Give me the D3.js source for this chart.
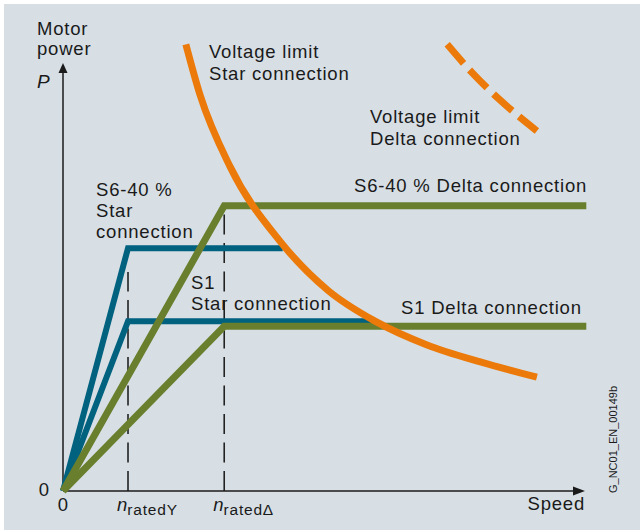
<!DOCTYPE html>
<html>
<head>
<meta charset="utf-8">
<script src="https://cdn.jsdelivr.net/npm/d3@7/dist/d3.min.js"></script>
<style>
  body { margin: 0; background: #fff; }
  svg text { font-family: "Liberation Sans", Arial, sans-serif; fill: #1a1a1a; }
</style>
</head>
<body>
<div id="chart"></div>
<script>
// Speed unit: n_ratedY = 1, power unit: S1 star connection = 1
const speedMax = 8.03;
const powerMax = 2.52;

const tickValues = [0, 1.0, 2.48];
const tickMain = ["0", "n", "n"];
const tickSub = ["", "ratedY", "ratedΔ"];
const ratedTop = [null, 1.29, 1.66];

const starS6 = [[0, 0], [1.0, 1.43], [3.38, 1.43]];
const starS1 = [[0, 0], [1.0, 1.0], [4.75, 1.0]];
const deltaS6 = [[0, 0], [2.48, 1.68], [8.05, 1.68]];
const deltaS1 = [[0, 0], [2.48, 0.97], [8.05, 0.97]];

const limitStar = [[1.89, 2.63], [2.11, 2.33], [2.57, 1.91], [3.34, 1.47], [4.08, 1.18],
                   [4.8, 1.0], [5.6, 0.86], [6.42, 0.76], [7.29, 0.67]];
const limitDelta = [[5.91, 2.63], [6.3, 2.46], [6.7, 2.31], [7.0, 2.21], [7.29, 2.12]];

const colors = { star: "#00627f", delta: "#6a7f2e", limit: "#ec7a0a", bg: "#d7dfe5" };

const W = 640, H = 530;
const svg = d3.select("#chart").append("svg").attr("width", W).attr("height", H);

svg.append("rect").attr("x", 4).attr("y", 4).attr("width", W - 4).attr("height", H - 4)
    .attr("fill", colors.bg);

const x = d3.scaleLinear().domain([0, speedMax]).range([63, 585]);
const y = d3.scaleLinear().domain([0, powerMax]).range([491, 63]);

const line = d3.line().x(d => x(d[0])).y(d => y(d[1]));
const curve = d3.line().x(d => x(d[0])).y(d => y(d[1])).curve(d3.curveMonotoneX);

// rated speed markers (drawn bottom-up so dashes start at the axis)
tickValues.forEach((v, i) => {
    if (ratedTop[i] == null) return;
    svg.append("path")
        .attr("d", line([[v, 0], [v, ratedTop[i]]]))
        .attr("fill", "none")
        .attr("stroke", "#222")
        .attr("stroke-width", 1.6)
        .attr("stroke-dasharray", "20 8.5");
});

// axes
svg.append("line").attr("x1", x(0)).attr("x2", x(0)).attr("y1", y(0)).attr("y2", y(powerMax) + 9)
    .attr("stroke", "#1a1a1a").attr("stroke-width", 1.5);
svg.append("path")
    .attr("d", `M${x(0)},${y(powerMax)} L${x(0) - 4.5},${y(powerMax) + 10} L${x(0) + 4.5},${y(powerMax) + 10} Z`)
    .attr("fill", "#1a1a1a");
svg.append("line").attr("x1", x(0)).attr("x2", x(speedMax) - 10).attr("y1", y(0)).attr("y2", y(0))
    .attr("stroke", "#1a1a1a").attr("stroke-width", 1.5);
svg.append("path")
    .attr("d", `M${x(speedMax)},${y(0)} L${x(speedMax) - 12},${y(0) - 4.5} L${x(speedMax) - 12},${y(0) + 4.5} Z`)
    .attr("fill", "#1a1a1a");

// power characteristics
const series = [
    { d: starS1, c: colors.star, w: 6 },
    { d: starS6, c: colors.star, w: 6 },
    { d: deltaS1, c: colors.delta, w: 7 },
    { d: deltaS6, c: colors.delta, w: 7 }
];
series.forEach(s => {
    svg.append("path")
        .attr("d", line(s.d))
        .attr("fill", "none")
        .attr("stroke", s.c)
        .attr("stroke-width", s.w)
        .attr("stroke-linejoin", "miter");
});

// voltage limits
svg.append("path").attr("d", curve(limitStar))
    .attr("fill", "none").attr("stroke", colors.limit).attr("stroke-width", 7);
svg.append("path").attr("d", curve(limitDelta))
    .attr("fill", "none").attr("stroke", colors.limit).attr("stroke-width", 7)
    .attr("stroke-dasharray", "25 9");

// labels
const fs = 18.5, ls = 0.8;
function label(lines, lx, ly, dy) {
    const t = svg.append("text").attr("x", lx).attr("y", ly)
        .style("font-size", fs + "px").style("letter-spacing", ls + "px");
    lines.forEach((s, i) => {
        t.append("tspan").attr("x", lx).attr("dy", i === 0 ? 0 : dy).text(s);
    });
    return t;
}

label(["Motor", "power"], 37, 35, 20);
svg.append("text").attr("x", 37).attr("y", 88).style("font-size", "19px")
    .style("font-style", "italic").text("P");

label(["Voltage limit", "Star connection"], 209, 58, 22);
label(["Voltage limit", "Delta connection"], 370, 123, 22);
label(["S6-40 % Delta connection"], 354, 192, 0);
label(["S1 Delta connection"], 401, 314, 0);
label(["S6-40 %", "Star", "connection"], 96, 196, 21);
label(["S1", "Star connection"], 191, 289, 21);

// y zero
svg.append("text").attr("x", x(0) - 14).attr("y", y(0) + 5).attr("text-anchor", "end")
    .style("font-size", fs + "px").text("0");

// speed ticks
tickValues.forEach((v, i) => {
    const t = svg.append("text").attr("y", y(0) + 20).style("font-size", fs + "px");
    if (i === 0) {
        t.attr("x", x(v)).attr("text-anchor", "middle").text(tickMain[i]);
    } else {
        t.attr("x", x(v) - 11);
        t.append("tspan").style("font-style", "italic").text(tickMain[i]);
        t.append("tspan").attr("dy", 4).style("font-size", "15.5px")
            .style("letter-spacing", "0.8px").text(tickSub[i]);
    }
});

svg.append("text").attr("x", x(speedMax)).attr("y", 510).attr("text-anchor", "end")
    .style("font-size", fs + "px").style("letter-spacing", ls + "px").text("Speed");

svg.append("text").attr("transform", "translate(617,493) rotate(-90)")
    .style("font-size", "11px").text("G_NC01_EN_00149b");
</script>
</body>
</html>
